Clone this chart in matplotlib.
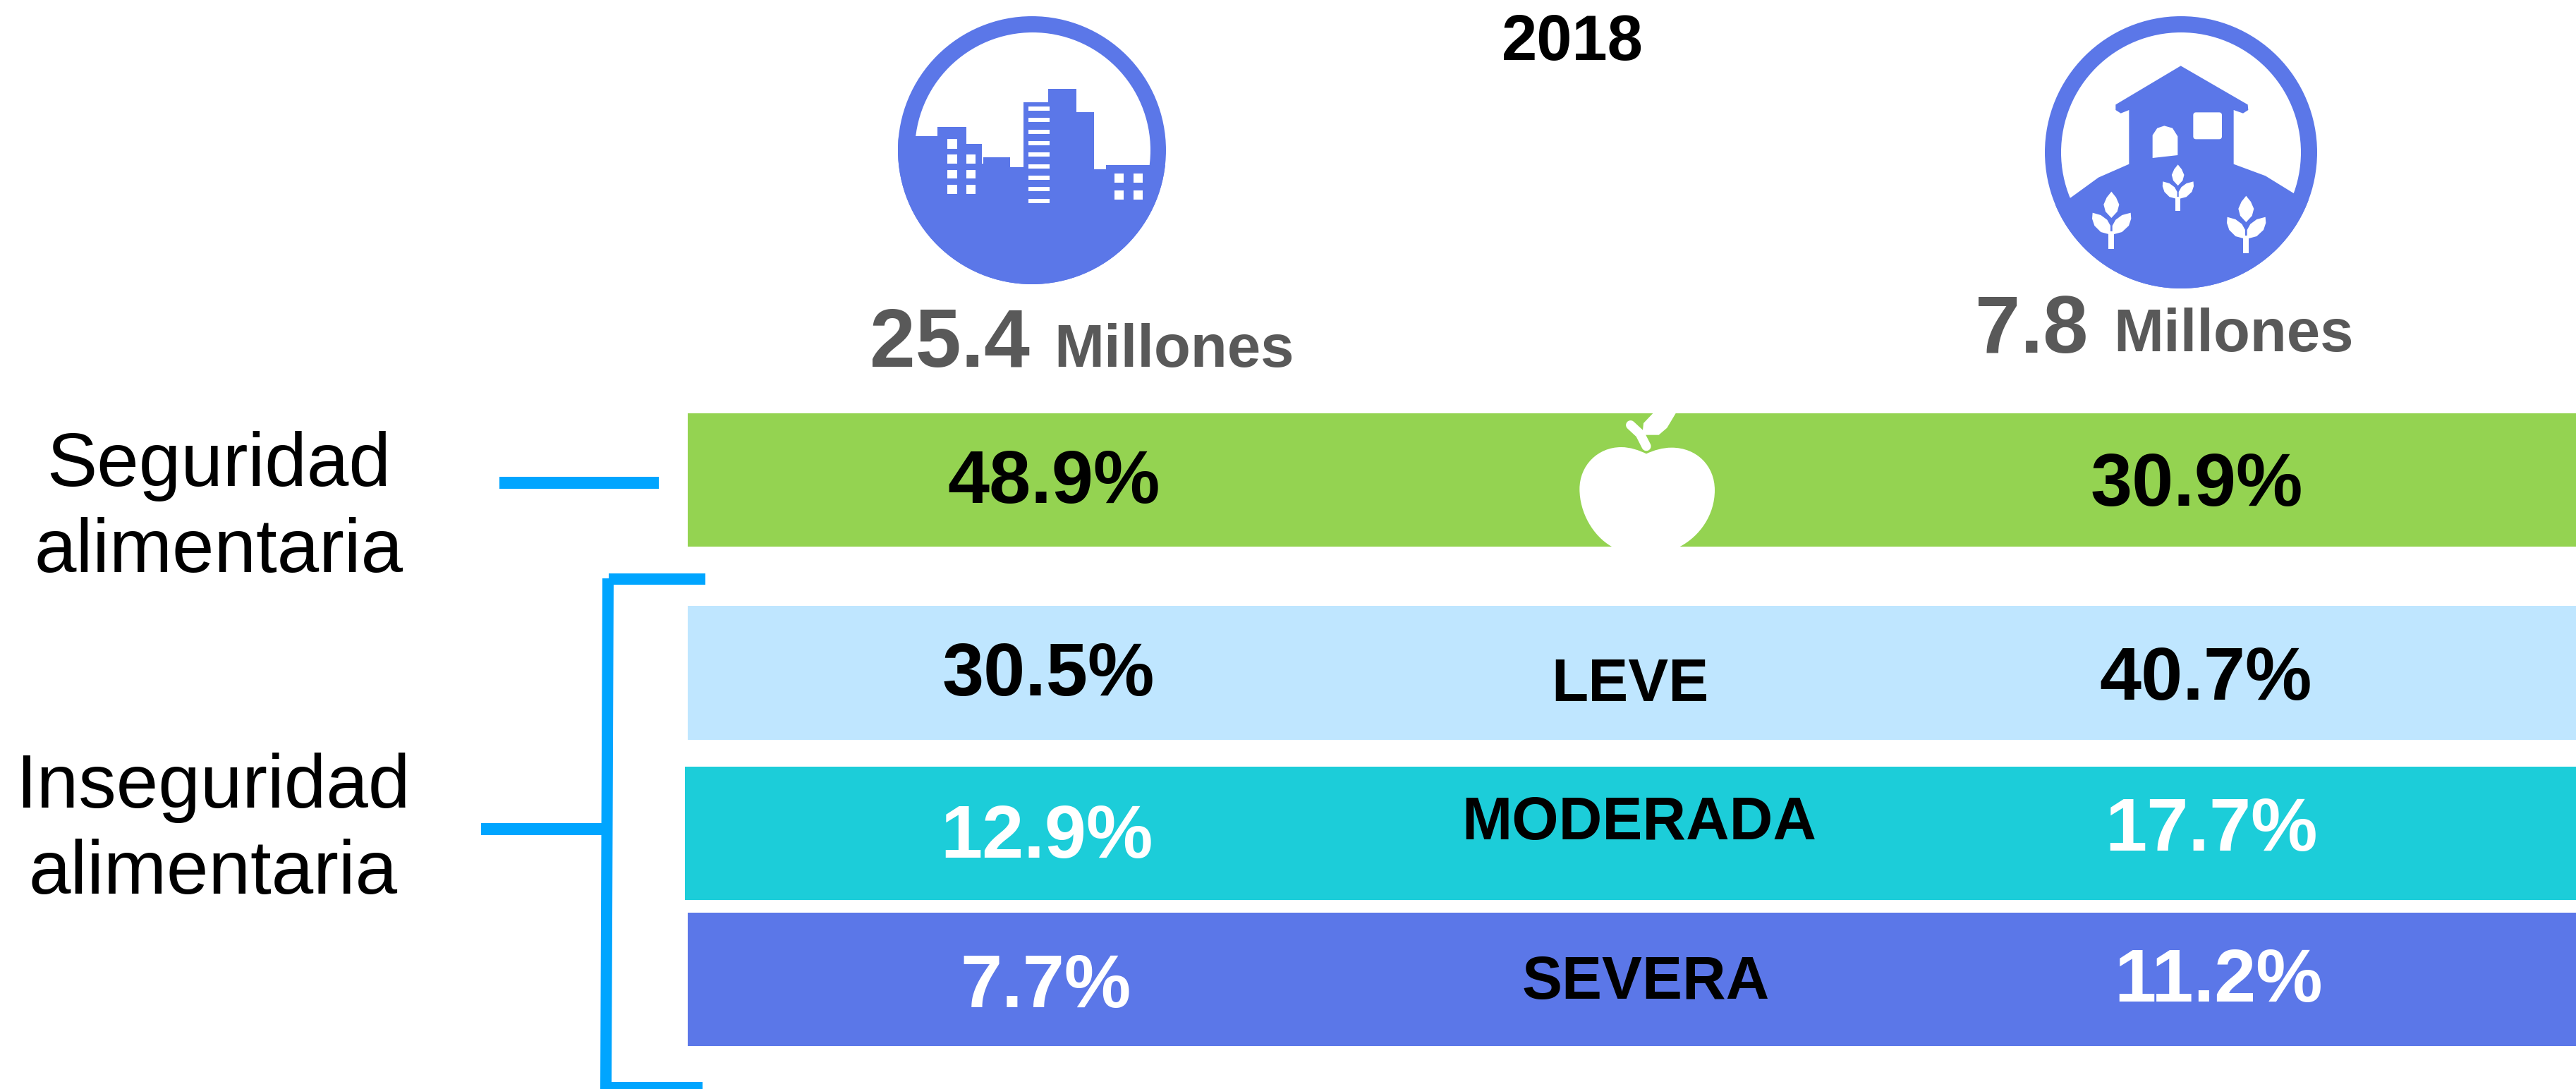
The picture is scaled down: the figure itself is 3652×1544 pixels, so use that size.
from matplotlib.patches import Rectangle, Circle, Polygon, PathPatch, FancyBboxPatch
from matplotlib.path import Path
import matplotlib.pyplot as plt

# Data
year = '2018'
urban_total = '25.4'
rural_total = '7.8'
unit = 'Millones'
levels = ['', 'LEVE', 'MODERADA', 'SEVERA']
urban_pct = [48.9, 30.5, 12.9, 7.7]
rural_pct = [30.9, 40.7, 17.7, 11.2]
group_labels = ['Seguridad\nalimentaria', 'Inseguridad\nalimentaria']

# Colours
BLUE = '#5b77e8'
GREEN = '#94d351'
LIGHT = '#bfe6ff'
TEAL = '#1ccdd9'
LINE = '#00a5ff'
GREY = '#595959'

W, H = 3652, 1544
plt.rcParams['font.family'] = ['Liberation Sans', 'DejaVu Sans']

fig = plt.figure(figsize=(W / 100, H / 100), dpi=100)
ax = fig.add_axes([0, 0, 1, 1])
ax.set_xlim(0, W)
ax.set_ylim(H, 0)
ax.axis('off')

# Bands: left, top, bottom, colour, text colour
bands = [(975, 586, 775, GREEN, 'black'),
         (975, 859, 1049, LIGHT, 'black'),
         (971, 1087, 1276, TEAL, 'white'),
         (975, 1294, 1483, BLUE, 'white')]
urban_pos = [(1494, 713), (1486, 986), (1484, 1216), (1482, 1428)]
rural_pos = [(3114, 717), (3127, 992), (3135, 1206), (3145, 1420)]
level_pos = [None, (2311, 994), (2324, 1190), (2333, 1416)]
for i, (left, top, bottom, col, tcol) in enumerate(bands):
    ax.add_patch(Rectangle((left, top), W - left, bottom - top, fc=col, ec='none'))
    ax.text(*urban_pos[i], '%.1f%%' % urban_pct[i], color=tcol, fontsize=76.5, fontweight='bold', ha='center')
    ax.text(*rural_pos[i], '%.1f%%' % rural_pct[i], color=tcol, fontsize=76.5, fontweight='bold', ha='center')
    if levels[i]:
        ax.text(*level_pos[i], levels[i], color='black', fontsize=61.5, fontweight='bold', ha='center')

# Brackets
ax.add_patch(Polygon([(854, 820), (870, 820), (867, 1544), (851, 1544)], fc=LINE, ec='none'))
ax.add_patch(Rectangle((863, 813), 137, 16, fc=LINE, ec='none'))
ax.add_patch(Rectangle((859, 1534), 137, 10, fc=LINE, ec='none'))
ax.add_patch(Rectangle((682, 1167), 175, 17, fc=LINE, ec='none'))
ax.add_patch(Rectangle((708, 676), 226, 17, fc=LINE, ec='none'))

# Left labels
ax.text(310, 722, group_labels[0], fontsize=77, ha='center', va='center', linespacing=1.27)
ax.text(302, 1178, group_labels[1], fontsize=77, ha='center', va='center', linespacing=1.27)

# Header
ax.text(2229, 85, year, fontsize=65, fontweight='bold', ha='center')
ax.text(1233, 520, urban_total, fontsize=84, fontweight='bold', color=GREY)
ax.text(1494, 520, unit, fontsize=61.3, fontweight='bold', color=GREY)
ax.text(2800, 500, rural_total, fontsize=83, fontweight='bold', color=GREY)
ax.text(2996, 498, unit, fontsize=61.3, fontweight='bold', color=GREY)


# City icon, outline read in 3x crop coordinates
def city(x, y):
    return (1200 + x / 3, y / 3)


ax.add_patch(Circle((1463, 213), 190, fc=BLUE, ec='none'))
ax.add_patch(Circle((1464, 213), 167, fc='white', ec='none'))
skyline = [(220, 580), (388, 580), (388, 540), (510, 540), (510, 612), (575, 612), (575, 695), (583, 695),
           (583, 668), (697, 668), (697, 712), (752, 712), (752, 435), (857, 435), (857, 378), (978, 378),
           (978, 478), (1052, 478), (1052, 720), (1105, 720), (1105, 702), (1360, 702), (1360, 1215), (220, 1215)]
sky = Polygon([city(*p) for p in skyline], fc=BLUE, ec='none')
ax.add_patch(sky)
sky.set_clip_path(Circle((1463, 213), 190, transform=ax.transData))
for x0, y0, w, h in [(428, 592, 42, 40), (428, 657, 42, 38), (510, 657, 40, 38), (428, 722, 42, 38),
                     (510, 722, 40, 38), (428, 787, 42, 38), (510, 787, 40, 38), (1140, 738, 40, 40),
                     (1220, 738, 40, 40), (1140, 810, 40, 40), (1220, 810, 40, 40)]:
    ax.add_patch(Rectangle(city(x0, y0), w / 3, h / 3, fc='white', ec='none'))
for y0 in [453, 502, 551, 600, 649, 698, 747, 796, 845]:
    ax.add_patch(Rectangle(city(775, y0), 90 / 3, 18 / 3, fc='white', ec='none'))


# Rural icon, same idea
def farm(x, y):
    return (2850 + x / 3, 50 + y / 3)


ax.add_patch(Circle((3092, 216), 193, fc=BLUE, ec='none'))
ax.add_patch(Circle((3092, 216), 170, fc='white', ec='none'))
hill = [(100, 760), (258, 690), (375, 605), (505, 548), (505, 318), (470, 332), (448, 318), (448, 295),
        (725, 130), (1010, 295), (1012, 318), (990, 332), (950, 318), (950, 548), (1085, 598), (1205, 672),
        (1350, 740), (1350, 1080), (100, 1080)]
hl = Polygon([farm(*p) for p in hill], fc=BLUE, ec='none')
ax.add_patch(hl)
hl.set_clip_path(Circle((3092, 216), 193, transform=ax.transData))
ax.add_patch(FancyBboxPatch(farm(778, 328), 122 / 3, 114 / 3, boxstyle='round,pad=0,rounding_size=4',
                            fc='white', ec='none'))
ax.add_patch(Polygon([farm(605, 522), farm(605, 425), farm(625, 395), farm(655, 385), farm(690, 395),
                      farm(712, 430), farm(712, 510)], fc='white', ec='none'))


def plant(cx, top, s):
    # sprout: top leaf, two side leaves, stem
    pts_top = [(0, 0), (20, 25), (33, 55), (25, 85), (0, 112), (-25, 85), (-33, 55), (-20, 25)]
    pts_l = [(-80, 90), (-45, 100), (-18, 120), (-4, 145), (-4, 183), (-45, 172), (-72, 145), (-82, 115)]
    pts_r = [(82, 90), (45, 100), (18, 120), (4, 145), (4, 183), (45, 172), (74, 145), (84, 115)]
    for pts in (pts_top, pts_l, pts_r):
        ax.add_patch(Polygon([farm(cx + s * a, top + s * b) for a, b in pts], fc='white', ec='none'))
    ax.add_patch(Rectangle(farm(cx - 12 * s, top + 170 * s), 24 * s / 3, 75 * s / 3, fc='white', ec='none'))


plant(430, 665, 1.0)
plant(713, 550, 0.8)
plant(1003, 683, 1.0)


# Apple
def apple(x, y):
    return (2150 + x / 3, 560 + y / 3)


verts = [(552, 250), (585, 235), (620, 224), (660, 224), (765, 224), (843, 300), (843, 405), (843, 510),
         (780, 600), (695, 645), (405, 645), (325, 600), (268, 500), (268, 400), (268, 300), (345, 222),
         (445, 222), (485, 222), (520, 235), (552, 250)]
codes = [Path.MOVETO] + [Path.CURVE4] * 9 + [Path.LINETO] + [Path.CURVE4] * 9
ax.add_patch(PathPatch(Path([apple(*v) for v in verts], codes), fc='white', ec='none'))
ax.plot(*zip(apple(485, 128), apple(525, 165), apple(552, 218)), color='white', lw=9.5, solid_capstyle='round')
ax.add_patch(Polygon([apple(*p) for p in [(580, 78), (677, 78), (640, 140), (605, 170), (535, 170), (540, 120)]],
                     fc='white', ec='none'))

fig.savefig('out.png', dpi=100, facecolor='white')
